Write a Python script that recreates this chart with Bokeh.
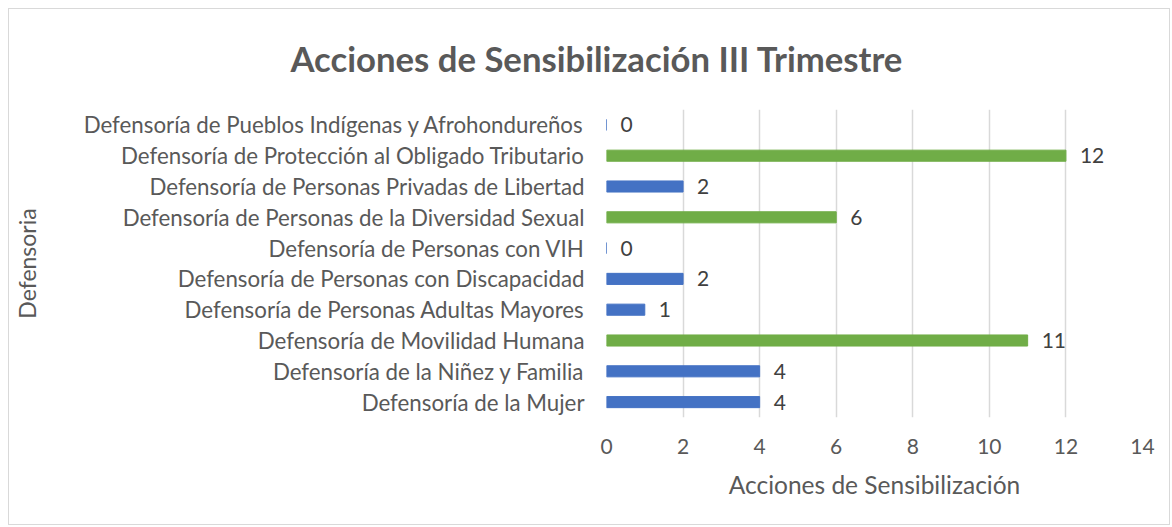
from bokeh.plotting import figure
from bokeh.models import ColumnDataSource, Range1d, FixedTicker, LabelSet
from bokeh.core.properties import value
from bokeh.embed import file_html
from bokeh.resources import INLINE

title_text = "Acciones de Sensibilización III Trimestre"
categories = [
    "Defensoría de la Mujer",
    "Defensoría de la Niñez y Familia",
    "Defensoría de Movilidad Humana",
    "Defensoría de Personas Adultas Mayores",
    "Defensoría de Personas con Discapacidad",
    "Defensoría de Personas con VIH",
    "Defensoría de Personas de la Diversidad Sexual",
    "Defensoría de Personas Privadas de Libertad",
    "Defensoría de Protección al Obligado Tributario",
    "Defensoría de Pueblos Indígenas y Afrohondureños",
]
values = [4, 4, 11, 1, 2, 0, 6, 2, 12, 0]
colors = ["#4472C4", "#4472C4", "#70AD47", "#4472C4", "#4472C4",
          "#4472C4", "#70AD47", "#4472C4", "#70AD47", "#4472C4"]
x_ticks = [0, 2, 4, 6, 8, 10, 12, 14]

FONT = "Lato"
TXT = "#595959"

src = ColumnDataSource(dict(cat=categories, val=values, col=colors,
                            lbl=[str(v) for v in values]))

p = figure(width=1162, height=517, y_range=categories, x_range=Range1d(0, 14),
           output_backend="svg", toolbar_location=None, title=title_text,
           min_border_left=596, min_border_right=29, min_border_top=100,
           min_border_bottom=109)

p.hbar(y="cat", right="val", height=0.36, color="col", source=src)

labels = LabelSet(x="val", y="cat", text="lbl", source=src, x_offset=14,
                  text_baseline="middle", text_font=value(FONT),
                  text_font_size="21px", text_color="#404040")
p.add_layout(labels)

p.title.align = "left"
p.title.offset = -316
p.title.vertical_align = "top"
p.title.text_font = FONT
p.title.text_font_size = "34.7px"
p.title.text_font_style = "bold"
p.title.text_color = TXT
p.title.standoff = 57

p.xaxis.ticker = FixedTicker(ticks=x_ticks)
p.xaxis.axis_line_color = None
p.xaxis.major_tick_line_color = None
p.xaxis.minor_tick_line_color = None
p.xaxis.major_label_text_font = FONT
p.xaxis.major_label_text_font_size = "21px"
p.xaxis.major_label_text_color = TXT
p.xaxis.major_label_standoff = 15
p.xaxis.axis_label = "Acciones de Sensibilización"
p.xaxis.axis_label_text_font = FONT
p.xaxis.axis_label_text_font_size = "24.5px"
p.xaxis.axis_label_text_font_style = "normal"
p.xaxis.axis_label_text_color = TXT
p.xaxis.axis_label_standoff = 13

p.yaxis.axis_line_color = None
p.yaxis.major_tick_line_color = None
p.yaxis.minor_tick_line_color = None
p.yaxis.major_label_text_font = FONT
p.yaxis.major_label_text_font_size = "22.3px"
p.yaxis.major_label_text_color = TXT
p.yaxis.major_label_standoff = 16
p.yaxis.axis_label = "Defensoria"
p.yaxis.axis_label_text_font = FONT
p.yaxis.axis_label_text_font_size = "23px"
p.yaxis.axis_label_text_font_style = "normal"
p.yaxis.axis_label_text_color = TXT
p.yaxis.axis_label_standoff = 40

p.xgrid.grid_line_color = "#D9D9D9"
p.xgrid.grid_line_width = 1.5
p.ygrid.grid_line_color = None
p.outline_line_color = None
p.y_range.range_padding = 0
p.styles = {"border": "1px solid #D9D9D9", "margin": "8px 0 0 8px"}

open("out.html", "w").write(file_html(p, INLINE))
